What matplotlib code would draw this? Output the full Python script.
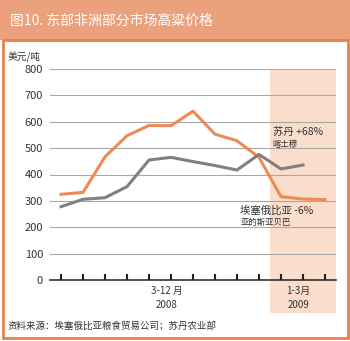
import matplotlib
matplotlib.use("Agg")
import matplotlib.pyplot as plt
from matplotlib.patches import Rectangle
from matplotlib.transforms import blended_transform_factory

plt.rcParams['font.family'] = ['Noto Sans CJK SC', 'DejaVu Sans']

# Monthly sorghum prices (USD/ton), Mar 2008 - Mar 2009
months = list(range(13))
sudan = [325, 332, 467, 547, 586, 585, 640, 553, 528, 465, 316, 307, 305]
ethiopia = [278, 306, 312, 354, 455, 465, 449, 434, 417, 476, 421, 436]
y_ticks = [0, 100, 200, 300, 400, 500, 600, 700, 800]

title = "图10. 东部非洲部分市场高粱价格"
unit = "美元/吨"
source = "资料来源：埃塞俄比亚粮食贸易公司；苏丹农业部"

orange = "#EE8A55"
gray = "#808080"
txt = "#333333"

fig = plt.figure(figsize=(3.5, 3.41), dpi=100)

# title band and frame
fig.patches.append(Rectangle((0, 1 - 40 / 341), 1, 40 / 341, transform=fig.transFigure,
                             facecolor="#EBA27C", edgecolor="none", zorder=-2))
fig.patches.append(Rectangle((3 / 350, 3 / 341), 345 / 350, 298 / 341, transform=fig.transFigure,
                             facecolor="white", edgecolor="#E8804A", lw=2, zorder=-1))
fig.text(10 / 350, 1 - 21 / 341, title, color="white", fontsize=10, va="center", ha="left")

ax = fig.add_axes([50 / 350, 61 / 341, 286 / 350, 211 / 341])
ax.set_facecolor("none")

# shaded 2009 period
ax.axvspan(9.5, 12.5, ymin=-0.156, ymax=1, color="#FADDCB", lw=0, clip_on=False, zorder=0)

ax.plot(months, sudan, color=orange, lw=2.2, zorder=3)
ax.plot(months[:len(ethiopia)], ethiopia, color=gray, lw=2.2, zorder=3)

ax.set_xlim(-0.5, 12.5)
ax.set_ylim(0, 800)
ax.set_yticks(y_ticks)
ax.set_yticklabels([str(v) for v in y_ticks], fontsize=8, color=txt)
ax.set_xticks(months)
ax.tick_params(axis="x", labelbottom=False, length=0)
ax.tick_params(axis="y", length=0, pad=5)
ax.grid(axis="y", color="#A8A8A8", lw=0.8)
ax.set_axisbelow(True)
for s in ["top", "right", "left"]:
    ax.spines[s].set_visible(False)
ax.spines["bottom"].set_color(txt)
ax.spines["bottom"].set_linewidth(1.2)
ax.spines["bottom"].set_zorder(4)

# month tick marks standing up from the baseline
ax.vlines(months, 0, 22, colors="#222222", lw=1.5, zorder=5)

tr = blended_transform_factory(ax.transData, ax.transAxes)
ax.text(4.8, -0.03, "3-12 月", transform=tr, ha="center", va="top", fontsize=7, color=txt)
ax.text(4.8, -0.097, "2008", transform=tr, ha="center", va="top", fontsize=7, color=txt)
ax.text(10.8, -0.03, "1-3月", transform=tr, ha="center", va="top", fontsize=7, color=txt)
ax.text(10.8, -0.097, "2009", transform=tr, ha="center", va="top", fontsize=7, color=txt)

ax.text(9.62, 560, "苏丹 +68%", fontsize=7.5, color=txt, ha="left", va="center")
ax.text(9.62, 515, "喀土穆", fontsize=6, color=txt, ha="left", va="center")
ax.text(8.15, 262, "埃塞俄比亚 -6%", fontsize=7.5, color=txt, ha="left", va="center")
ax.text(8.15, 217, "亚的斯亚贝巴", fontsize=6, color=txt, ha="left", va="center")

fig.text(8 / 350, 1 - 57 / 341, unit, fontsize=7, color=txt, va="center")
fig.text(8 / 350, 1 - 326 / 341, source, fontsize=6.8, color=txt, va="center")

fig.savefig("out.png", dpi=100)
